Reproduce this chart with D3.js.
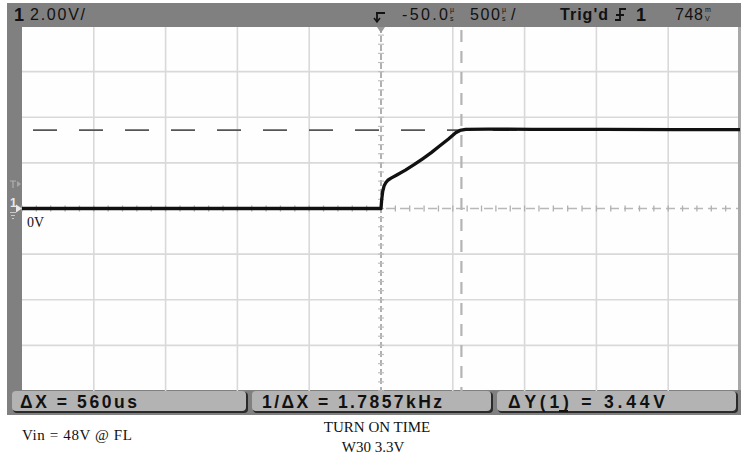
<!DOCTYPE html>
<html><head><meta charset="utf-8">
<script src="https://cdn.jsdelivr.net/npm/d3@7"></script>
<style>
html,body{margin:0;padding:0;background:#fff;}
svg{display:block;}
</style></head>
<body>
<script>
// ---- data ----
const traceTimeUs = [-2550, -1500, -500, -50, -45, -38, -28, -15, 0, 20, 60, 120, 180, 240, 300, 360, 420, 470, 500, 540, 700, 1000, 1500, 2000, 2450];
const traceVolts  = [0, 0, 0, 0, 0.4, 0.75, 1.0, 1.15, 1.25, 1.33, 1.47, 1.68, 1.92, 2.18, 2.45, 2.75, 3.05, 3.32, 3.42, 3.47, 3.48, 3.47, 3.47, 3.46, 3.46];
const cursorX = [-50, 510];          // us
const cursorY = [3.44];              // V
const timeTicks = [-2550, -2050, -1550, -1050, -550, -50, 450, 950, 1450, 1950, 2450];
const voltTicks = [-8, -6, -4, -2, 0, 2, 4, 6, 8];
const topLabels = {ch: "1", scale: "2.00V/", delay: "-50.0", timebase: "500", trig: "Trig'd", trigCh: "1", level: "748"};
const measLabels = ["ΔX = 560us", "1/ΔX = 1.7857kHz", "ΔY(1) = 3.44V"];
const noteLeft = "Vin = 48V @ FL";
const noteTitle = ["TURN ON TIME", "W30 3.3V"];

(function () {
const W = 747, H = 462;
const svg = d3.select("body").append("svg").attr("width", W).attr("height", H);
const x = d3.scaleLinear().domain([-2550, 2450]).range([22, 740]);
const y = d3.scaleLinear().domain([-8, 8]).range([391, 26]);

// frame backgrounds
svg.append("rect").attr("x", 7).attr("y", 3).attr("width", 734).attr("height", 24).attr("fill", "#808080");
svg.append("rect").attr("x", 7).attr("y", 3).attr("width", 15).attr("height", 388).attr("fill", "#808080");
svg.append("rect").attr("x", 22).attr("y", 27).attr("width", 717).attr("height", 364).attr("fill", "#fefefe");
svg.append("rect").attr("x", 738).attr("y", 27).attr("width", 3).attr("height", 364).attr("fill", "#a8a8a8");
svg.append("rect").attr("x", 7).attr("y", 390).attr("width", 734).attr("height", 25).attr("fill", "#808080");

// grid
const grid = svg.append("g");
grid.selectAll("line.v").data(timeTicks.slice(1, -1).filter(t => t !== -50)).join("line")
  .attr("x1", d => x(d)).attr("x2", d => x(d)).attr("y1", 27).attr("y2", 391)
  .attr("stroke", "#d9d9d9").attr("stroke-width", 1.6);
grid.selectAll("line.h").data(voltTicks.slice(1, -1).filter(v => v !== 0)).join("line")
  .attr("x1", 22).attr("x2", 738).attr("y1", d => y(d)).attr("y2", d => y(d))
  .attr("stroke", "#d9d9d9").attr("stroke-width", 1.6);
// centre horizontal axis with minor ticks
grid.append("line").attr("x1", 22).attr("x2", 738).attr("y1", y(0)).attr("y2", y(0))
  .attr("stroke", "#b8b8b8").attr("stroke-width", 1.4).attr("stroke-dasharray", "9,5");
const minorT = d3.range(-2550, 2450, 100);
grid.selectAll("line.mt").data(minorT).join("line")
  .attr("x1", d => x(d)).attr("x2", d => x(d)).attr("y1", y(0) - 3).attr("y2", y(0) + 3)
  .attr("stroke", "#b0b0b0").attr("stroke-width", 1.3);
// centre vertical axis (cursor X1 overlay) with minor ticks
grid.append("line").attr("x1", x(cursorX[0])).attr("x2", x(cursorX[0])).attr("y1", 27).attr("y2", 391)
  .attr("stroke", "#b0b0b0").attr("stroke-width", 2).attr("stroke-dasharray", "6,3");
const minorV = d3.range(-8, 8, 0.4);
grid.selectAll("line.mv").data(minorV).join("line")
  .attr("x1", x(cursorX[0]) - 3).attr("x2", x(cursorX[0]) + 3).attr("y1", d => y(d)).attr("y2", d => y(d))
  .attr("stroke", "#c0c0c0").attr("stroke-width", 1.2);

// cursor X2
svg.append("line").attr("x1", x(cursorX[1])).attr("x2", x(cursorX[1])).attr("y1", 30).attr("y2", 391)
  .attr("stroke", "#b4b4b4").attr("stroke-width", 2.2).attr("stroke-dasharray", "12,9");
// cursor Y
svg.append("line").attr("x1", 33).attr("x2", 738).attr("y1", y(cursorY[0])).attr("y2", y(cursorY[0]))
  .attr("stroke", "#555").attr("stroke-width", 1.8).attr("stroke-dasharray", "24,22");

// trigger position marker at top
svg.append("path").attr("d", `M${x(-50) - 4},27 L${x(-50) + 4},27 L${x(-50)},33 Z`).attr("fill", "#9a9a9a");

// trace
const pts = traceTimeUs.map((t, i) => [t, traceVolts[i]]);
svg.append("path").datum(pts)
  .attr("d", d3.line().x(d => x(d[0])).y(d => y(d[1])))
  .attr("fill", "none").attr("stroke", "#111").attr("stroke-width", 3.3).attr("stroke-linejoin", "round");

// left ground / trigger markers
svg.append("text").attr("x", 10).attr("y", 207).attr("font-family", "Liberation Sans, Arial, sans-serif")
  .attr("font-size", 12).attr("font-weight", "bold").attr("fill", "#e8e8e8").text("1");
svg.append("path").attr("d", `M16,${y(0) - 4} L22,${y(0)} L16,${y(0) + 4} Z`).attr("fill", "#e8e8e8");
svg.append("path").attr("d", "M10,181 L16,181 M13,181 L13,188").attr("stroke", "#b0b0b0").attr("stroke-width", 1.2);
svg.append("path").attr("d", "M17,181 L21,184 L17,187 Z").attr("fill", "#a8a8a8");
svg.append("path").attr("d", `M10,${y(0) + 4} L16,${y(0) + 4} M11,${y(0) + 7} L15,${y(0) + 7} M12,${y(0) + 10} L14,${y(0) + 10}`)
  .attr("stroke", "#c8c8c8").attr("stroke-width", 1);

// 0V label
svg.append("text").attr("x", 27).attr("y", 227).attr("font-family", "Liberation Serif, Times New Roman, serif")
  .attr("font-size", 14).attr("fill", "#111").text("0V");

// top status bar
const sans = "Liberation Sans, Arial, Helvetica, sans-serif";
const bar = svg.append("g").attr("font-family", sans).attr("fill", "#111");
bar.append("text").attr("x", 14).attr("y", 21).attr("font-size", 18).attr("font-weight", "bold").text(topLabels.ch);
bar.append("text").attr("x", 30).attr("y", 20).attr("font-size", 16).attr("textLength", 55).text(topLabels.scale);
// trigger delay symbol
bar.append("path").attr("d", "M376,13 L385,13 M377,13 L377,21").attr("stroke", "#111").attr("stroke-width", 1.8).attr("fill", "none");
bar.append("path").attr("d", "M374,18 L377,22 L380,18").attr("stroke", "#111").attr("stroke-width", 1.5).attr("fill", "none");
bar.append("text").attr("x", 402).attr("y", 20).attr("font-size", 16).attr("textLength", 46).text(topLabels.delay);
function stacked(xp, a, b) {
  bar.append("text").attr("x", xp).attr("y", 11.5).attr("font-size", 7).text(a);
  bar.append("text").attr("x", xp).attr("y", 21).attr("font-size", 7).text(b);
}
stacked(450, "µ", "s");
bar.append("text").attr("x", 470).attr("y", 20).attr("font-size", 16).attr("textLength", 30).text(topLabels.timebase);
stacked(502, "µ", "s");
bar.append("text").attr("x", 511).attr("y", 20).attr("font-size", 16).text("/");
bar.append("text").attr("x", 560).attr("y", 20).attr("font-size", 16).attr("font-weight", "bold").attr("textLength", 48).text(topLabels.trig);
// rising edge symbol
bar.append("path").attr("d", "M615,20 L620,20 L620,9 L626,9 M616,15 L624,15").attr("stroke", "#111").attr("stroke-width", 1.8).attr("fill", "none");
bar.append("text").attr("x", 636).attr("y", 21).attr("font-size", 18).attr("font-weight", "bold").text(topLabels.trigCh);
bar.append("text").attr("x", 675).attr("y", 20).attr("font-size", 16).attr("textLength", 28).text(topLabels.level);
stacked(705, "m", "V");

// bottom measurement boxes
const boxes = [[12, 247], [252, 492], [497, 737]];
const textX = [20, 262, 508];
const textLen = [117, 180, 157];
boxes.forEach((b, i) => {
  svg.append("rect").attr("x", b[0] + 1).attr("y", 392).attr("width", b[1] - b[0]).attr("height", 21)
    .attr("rx", 4).attr("fill", "#2a2a2a");
  svg.append("rect").attr("x", b[0]).attr("y", 391).attr("width", b[1] - b[0] - 1).attr("height", 20)
    .attr("rx", 4).attr("fill", "#b3b3b3");
  svg.append("text").attr("x", textX[i]).attr("y", 408).attr("font-family", sans).attr("font-size", 17.5)
    .attr("font-weight", "bold").attr("fill", "#111").attr("textLength", textLen[i]).attr("lengthAdjust", "spacing")
    .text(measLabels[i]);
});
// underline channel number in ΔY(1)
svg.append("line").attr("x1", 559).attr("x2", 568).attr("y1", 411).attr("y2", 411).attr("stroke", "#111").attr("stroke-width", 2);

// notes below
const serif = "Liberation Serif, Times New Roman, serif";
svg.append("text").attr("x", 22).attr("y", 440).attr("font-family", serif).attr("font-size", 15).attr("fill", "#111")
  .attr("textLength", 110).text(noteLeft);
svg.append("text").attr("x", 377).attr("y", 432).attr("text-anchor", "middle").attr("font-family", serif).attr("font-size", 15)
  .attr("fill", "#111").text(noteTitle[0]);
svg.append("text").attr("x", 373).attr("y", 452).attr("text-anchor", "middle").attr("font-family", serif).attr("font-size", 15)
  .attr("fill", "#111").text(noteTitle[1]);
})();
</script>
</body></html>
